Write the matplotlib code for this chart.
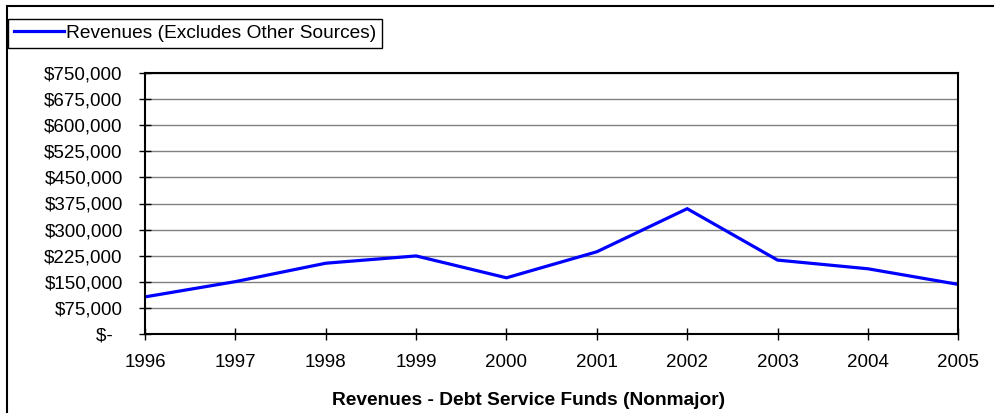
import matplotlib.pyplot as plt
from matplotlib.patches import Rectangle
from matplotlib.ticker import FuncFormatter

plt.rcParams['font.family'] = ['Liberation Sans', 'DejaVu Sans']

# revenues per fiscal year
years = [1996, 1997, 1998, 1999, 2000, 2001, 2002, 2003, 2004, 2005]
revenues = [106000, 150000, 203000, 224000, 161000, 236000, 360000, 212000, 187000, 142000]
series_label = 'Revenues (Excludes Other Sources)'
chart_title = 'Revenues - Debt Service Funds (Nonmajor)'
y_ticks = list(range(0, 750001, 75000))


def money(v, pos):
    if v == 0:
        return '$-  '
    return '${:,.0f}'.format(v)


fig = plt.figure(figsize=(9.95, 4.13), dpi=100)
ax = fig.add_axes([145 / 995, 1 - 333.7 / 413, (958.3 - 145) / 995, (333.7 - 73.3) / 413])

ax.plot(years, revenues, color='#0000ff', lw=2.3, label=series_label, solid_joinstyle='miter')

ax.set_xlim(years[0], years[-1])
ax.set_ylim(0, 750000)
ax.set_xticks(years)
ax.set_yticks(y_ticks)
ax.yaxis.set_major_formatter(FuncFormatter(money))
ax.grid(axis='y', color='#808080', lw=1)
ax.set_axisbelow(True)

for s in ax.spines.values():
    s.set_color('black')
    s.set_linewidth(1.5)

ax.tick_params(axis='both', direction='inout', length=9, width=1, color='black',
               labelsize=13.5)
ax.tick_params(axis='y', pad=11.5)
ax.tick_params(axis='x', pad=10)

ax.set_xlabel(chart_title, fontsize=13.8, fontweight='bold')
ax.xaxis.set_label_coords((528 - 145) / 813, -0.222)

# legend box in the upper-left corner
fig.legend(loc='upper left', bbox_to_anchor=(8 / 995, 1 - 19 / 413), borderaxespad=0,
           fancybox=False, edgecolor='black', framealpha=1, fontsize=13.8,
           handlelength=2.6, handletextpad=0.15, borderpad=0.3)
fig.legends[0].get_frame().set_linewidth(1)

# outer border of the chart area
fig.patches.append(Rectangle((7 / 995, -0.1), 1.2, 1 - 6 / 413 + 0.1, transform=fig.transFigure,
                             fill=False, edgecolor='black', lw=1.5))

fig.savefig('out.png', dpi=100)
